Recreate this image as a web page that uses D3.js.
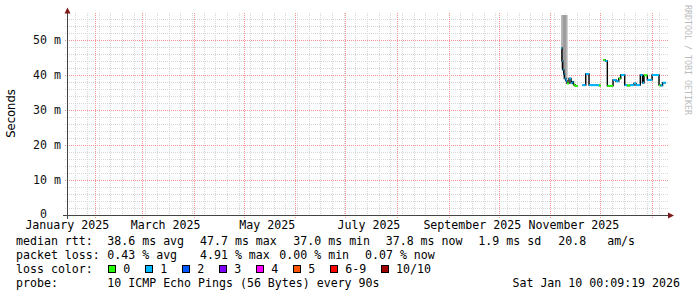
<!DOCTYPE html>
<html>
<head>
<meta charset="utf-8">
<script src="https://cdn.jsdelivr.net/npm/d3@7"></script>
<style>
body { margin: 0; background: #fff; }
text { font-family: "DejaVu Sans Mono", monospace; font-size: 11.6px; white-space: pre; }
</style>
</head>
<body>
<svg id="chart" width="697" height="297"></svg>
<script>
// median rtt per period (ms); null = no data; loss = lost pings out of 10
const rttDates = [
    "2025-11-07 10:00", "2025-11-08 00:00", "2025-11-08 10:00", "2025-11-09 01:00", "2025-11-09 12:00",
    "2025-11-10 06:00", "2025-11-11 00:00", "2025-11-12 05:00", "2025-11-13 10:00", "2025-11-14 05:00",
    "2025-11-14 22:00", "2025-11-15 20:00", "2025-11-17 11:00", "2025-11-20 05:00", "2025-11-22 06:00",
    "2025-11-24 05:00", "2025-11-30 05:00", "2025-12-01 07:00", "2025-12-02 19:00", "2025-12-04 00:00",
    "2025-12-05 05:00", "2025-12-08 15:00", "2025-12-10 10:00", "2025-12-12 01:00", "2025-12-13 06:00",
    "2025-12-15 15:00", "2025-12-17 01:00", "2025-12-18 20:00", "2025-12-21 05:00", "2025-12-22 10:00",
    "2025-12-25 00:00", "2025-12-26 08:00", "2025-12-27 05:00", "2025-12-29 05:00", "2026-01-01 01:00",
    "2026-01-05 05:00", "2026-01-06 03:00", "2026-01-07 08:00", "2026-01-09 10:00"
];
const rttMedian = [
    47.7, 44.0, 41.5, 40.3, 39.0,
    38.4, 37.6, 39.0, 37.7, 38.1,
    37.2, 36.9, null, 37.1, 40.3,
    37.1, 37.0, null, 44.3, 44.0,
    36.9, 38.6, 38.2, 39.0, 40.0,
    37.1, 37.0, 37.1, 37.6, 37.1,
    40.0, 37.8, 39.9, 38.6, 40.0,
    37.1, 37.0, 37.8, null
];
const rttLoss = [
    1, 1, 1, 1, 1,
    1, 0, 1, 1, 1,
    0, 0, 0, 1, 1,
    1, 0, 0, 0, 1,
    0, 1, 1, 0, 1,
    1, 0, 1, 1, 1,
    1, 1, 0, 1, 1,
    0, 1, 1, 0
];

// smoke (spread of the single pings), three grey layers, [low, high] in ms
const smokeDates = ["2025-11-07 12:00", "2025-11-08 15:00", "2025-11-10 05:00", "2025-11-10 22:00", "2025-11-11 19:00"];
const smokeLight = [[41.5, 62], [39, 62], [38.5, 62], [38.5, 62], null];
const smokeMid = [[42, 62], [39.5, 62], [39, 62], null, null];
const smokeDark = [null, [40, 62], null, null, null];

const yTicks = [0, 10, 20, 30, 40, 50];
const lossLabels = ["0", "1", "2", "3", "4", "5", "6-9", "10/10"];
const lossColors = ["#26ff00", "#00b8ff", "#0059ff", "#7e00ff", "#ff00ff", "#ff5500", "#ff0000", "#a10000"];
const rttStats = ["38.6 ms avg", "47.7 ms max", "37.0 ms min", "37.8 ms now", "1.9 ms sd", "20.8   am/s"];
const lossStats = ["0.43 % avg", "4.91 % max", "0.00 % min", "0.07 % now"];
const probeText = "10 ICMP Echo Pings (56 Bytes) every 90s";
const stampText = "Sat Jan 10 00:09:19 2026";
const timeStart = "2025-01-15 00:09";
const timeEnd = "2026-01-10 00:09";

const parse = d3.timeParse("%Y-%m-%d %H:%M");
const svg = d3.select("#chart");
const plot = {left: 67, right: 667, top: 15, bottom: 215};

const x = d3.scaleTime()
    .domain([parse(timeStart), parse(timeEnd)])
    .range([plot.left, plot.right]);
const y = d3.scaleLinear()
    .domain([0, (plot.bottom - plot.top) / 3.5])
    .range([plot.bottom, plot.top]);

svg.append("rect").attr("width", 697).attr("height", 297).attr("fill", "#fff");

// grid
const minorColor = "#d6d6d6";
const majorColor = "#f29494";
const grid = svg.append("g").attr("shape-rendering", "crispEdges").attr("stroke-dasharray", "1,1");
const ext = 2;
d3.range(2, y.domain()[1], 2).filter(v => v % 10 !== 0).forEach(v => {
    grid.append("line")
        .attr("x1", plot.left - ext).attr("x2", plot.right + ext)
        .attr("y1", Math.round(y(v)) + 0.5).attr("y2", Math.round(y(v)) + 0.5)
        .attr("stroke", minorColor);
});
d3.timeMonday.range(x.domain()[0], x.domain()[1]).forEach(t => {
    grid.append("line")
        .attr("x1", Math.round(x(t)) + 0.5).attr("x2", Math.round(x(t)) + 0.5)
        .attr("y1", plot.top - ext).attr("y2", plot.bottom + ext)
        .attr("stroke", minorColor);
});
yTicks.filter(v => v > 0).forEach(v => {
    grid.append("line")
        .attr("x1", plot.left - ext).attr("x2", plot.right + ext)
        .attr("y1", Math.round(y(v)) + 0.5).attr("y2", Math.round(y(v)) + 0.5)
        .attr("stroke", majorColor);
});
d3.timeMonth.range(x.domain()[0], x.domain()[1]).forEach(t => {
    grid.append("line")
        .attr("x1", Math.round(x(t)) + 0.5).attr("x2", Math.round(x(t)) + 0.5)
        .attr("y1", plot.top - ext).attr("y2", plot.bottom + ext + 1)
        .attr("stroke", majorColor);
});

// smoke
svg.append("clipPath").attr("id", "clip")
    .append("rect")
    .attr("x", plot.left).attr("y", plot.top)
    .attr("width", plot.right - plot.left).attr("height", plot.bottom - plot.top);
const smoke = svg.append("g").attr("clip-path", "url(#clip)").attr("shape-rendering", "crispEdges");
[[smokeLight, "#cfcfcf"], [smokeMid, "#b4b4b4"], [smokeDark, "#9c9c9c"]].forEach(([layer, color]) => {
    layer.forEach((r, i) => {
        if (!r || i + 1 >= smokeDates.length) return;
        const x0 = x(parse(smokeDates[i])), x1 = x(parse(smokeDates[i + 1]));
        smoke.append("rect")
            .attr("x", x0).attr("width", x1 - x0)
            .attr("y", y(r[1])).attr("height", y(r[0]) - y(r[1]))
            .attr("fill", color);
    });
});

// median line: black steps, coloured by loss
const pts = rttDates.map((d, i) => ({t: parse(d), v: rttMedian[i], loss: rttLoss[i]}));
let steps = "";
pts.forEach((p, i) => {
    const n = pts[i + 1];
    if (p.v == null || !n) return;
    const prev = pts[i - 1];
    if (!prev || prev.v == null) steps += "M" + x(p.t) + "," + y(p.v);
    steps += "H" + x(n.t);
    if (n.v != null) steps += "V" + y(n.v);
});
svg.append("path").attr("d", steps).attr("fill", "none").attr("stroke", "#000").attr("stroke-width", 1.4);
pts.forEach((p, i) => {
    const n = pts[i + 1];
    if (p.v == null || !n) return;
    svg.append("line")
        .attr("x1", x(p.t)).attr("x2", x(n.t))
        .attr("y1", y(p.v)).attr("y2", y(p.v))
        .attr("stroke", lossColors[p.loss]).attr("stroke-width", 2);
});

// axes
const axisColor = "#444";
const arrowColor = "#7f1a1a";
svg.append("line").attr("x1", plot.left - 4).attr("x2", plot.right + 3)
    .attr("y1", plot.bottom + 0.5).attr("y2", plot.bottom + 0.5)
    .attr("stroke", axisColor).attr("shape-rendering", "crispEdges");
svg.append("line").attr("x1", plot.left + 0.5).attr("x2", plot.left + 0.5)
    .attr("y1", plot.bottom + 4).attr("y2", plot.top - 4)
    .attr("stroke", axisColor).attr("shape-rendering", "crispEdges");
svg.append("path")
    .attr("d", `M${plot.right + 1},${plot.bottom - 2.5}L${plot.right + 7},${plot.bottom + 0.5}L${plot.right + 1},${plot.bottom + 3.5}Z`)
    .attr("fill", arrowColor);
svg.append("path")
    .attr("d", `M${plot.left - 2.5},${plot.top - 1.5}L${plot.left + 0.5},${plot.top - 7.5}L${plot.left + 3.5},${plot.top - 1.5}Z`)
    .attr("fill", arrowColor);

// y labels
yTicks.forEach(v => {
    svg.append("text")
        .attr("x", 61).attr("y", y(v) + (v === 0 ? 3 : 4))
        .attr("text-anchor", "end")
        .attr("fill", "#111")
        .text(v === 0 ? "0  " : v + " m");
});
svg.append("text")
    .attr("transform", "translate(15,113.5) rotate(-90)")
    .attr("text-anchor", "middle")
    .style("font-family", "'DejaVu Sans', sans-serif")
    .style("font-size", "11.6px")
    .text("Seconds");

// x labels (centred mid-month, every two months)
const fmt = d3.timeFormat("%B %Y");
d3.timeMonth.every(2).range(d3.timeMonth.floor(x.domain()[0]), x.domain()[1]).forEach(m => {
    const px = x(d3.timeHour.offset(m, 340));
    if (px < plot.left - 1 || px > plot.right) return;
    svg.append("text")
        .attr("x", px).attr("y", 229)
        .attr("text-anchor", "middle")
        .text(fmt(m));
});

// watermark
svg.append("text")
    .attr("transform", "translate(685,5) rotate(90)")
    .style("font-size", "8.3px")
    .attr("fill", "#bbb")
    .text("RRDTOOL / TOBI OETIKER");

// legend
const col0 = 16;
const line1 = [107.3, 200, 293.3, 385.7, 478.3, 558.3];
const line2 = [107.3, 200, 279.3, 365];
const leg = svg.append("g").attr("fill", "#000");
leg.append("text").attr("x", col0).attr("y", 245).text("median rtt:");
rttStats.forEach((s, i) => leg.append("text").attr("x", line1[i]).attr("y", 245).text(s));
leg.append("text").attr("x", col0).attr("y", 259).text("packet loss:");
lossStats.forEach((s, i) => leg.append("text").attr("x", line2[i]).attr("y", 259).text(s));
leg.append("text").attr("x", col0).attr("y", 273).text("loss color:");
let bx = 108.3;
lossLabels.forEach((lab, i) => {
    leg.append("rect")
        .attr("x", Math.round(bx) + 0.5).attr("y", 265.5)
        .attr("width", 7).attr("height", 7)
        .attr("fill", lossColors[i]).attr("stroke", "#000");
    leg.append("text").attr("x", bx + 15).attr("y", 273).text(lab);
    bx += 15 + lab.length * 6.98 + 15;
});
leg.append("text").attr("x", col0).attr("y", 287).text("probe:");
leg.append("text").attr("x", 107.3).attr("y", 287).text(probeText);
leg.append("text").attr("x", 680).attr("y", 287).attr("text-anchor", "end").text(stampText);
</script>
</body>
</html>
